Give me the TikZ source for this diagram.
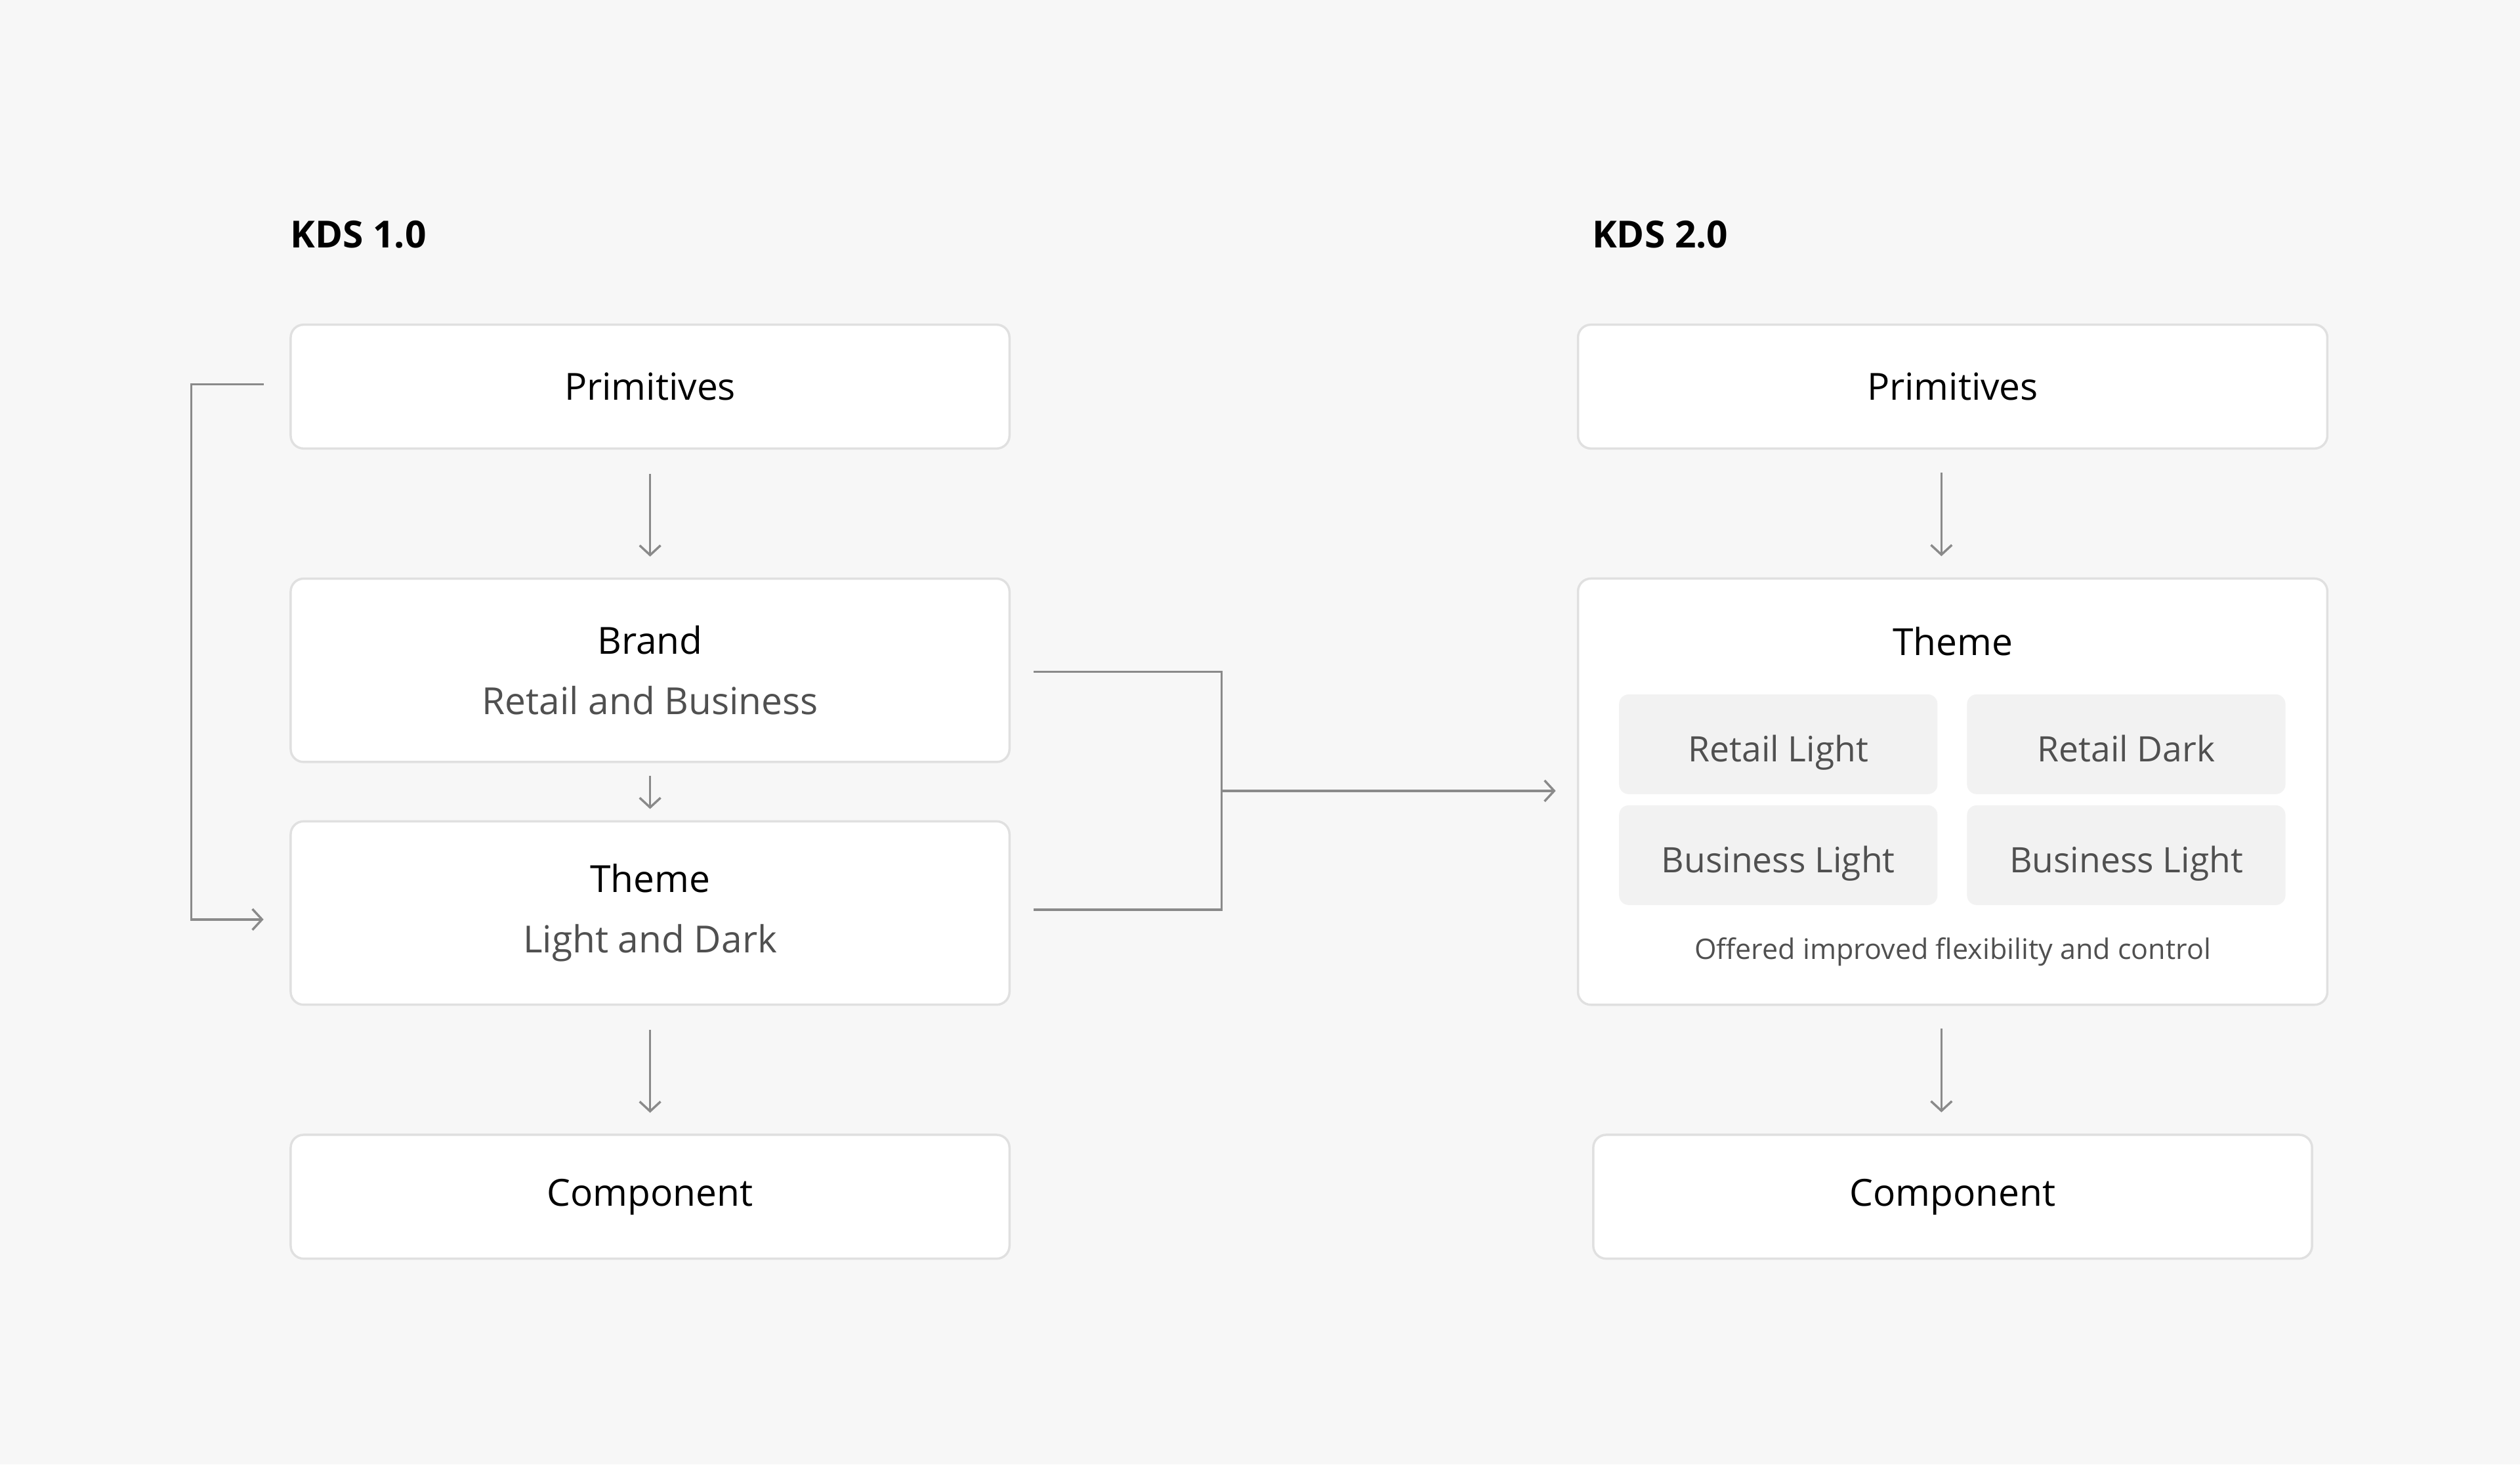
\documentclass[tikz,border=0pt]{standalone}
\usepackage{fontspec}
\setmainfont{Open Sans}
\usetikzlibrary{arrows.meta,positioning}
\definecolor{bgcol}{HTML}{F7F7F7}
\definecolor{linecol}{HTML}{E0E0E0}
\definecolor{chipcol}{HTML}{F2F2F2}
\definecolor{arrcol}{HTML}{8A8A8A}
\definecolor{subcol}{HTML}{505050}
\begin{document}
\begin{tikzpicture}[
x=0.01cm, y=-0.01cm,
box/.style={
  draw=linecol,
  fill=white,
  rounded corners=0.8mm,
  line width=0.4pt,
  minimum width=44.7mm,
  align=center,
  font=\fontsize{6.6}{9}\selectfont
  },
chip/.style={
  fill=chipcol,
  rounded corners=0.6mm,
  minimum width=19.8mm,
  minimum height=5mm,
  text height=1.6ex,
  text depth=0.45ex,
  text=subcol,
  font=\fontsize{6.2}{8}\selectfont
  },
flow/.style={
  draw=arrcol,
  line width=0.4pt,
  -{Straight Barb[length=0.6mm,width=1.3mm]}
  },
>=latex
]
\fill[bgcol] (0,0) rectangle (1568,911);

% KDS 1.0
\node[anchor=base west, inner sep=0pt, font=\bfseries\fontsize{6.6}{8}\selectfont] (titleA) at (180,154) {KDS 1.0};
\node[box, minimum height=7.7mm] (primA) at (404.5,240.5) {Primitives};
\node[box, minimum height=11.4mm] (brandA) at (404.5,417)
  {Brand\\[0.6mm]\textcolor{subcol}{Retail and Business}};
\node[box, minimum height=11.4mm] (themeA) at (404.5,568)
  {Theme\\[0.6mm]\textcolor{subcol}{Light and Dark}};
\node[box, minimum height=7.7mm] (compA) at (404.5,744.5) {Component};

\draw[flow] ([yshift=-1.5mm]primA.south) -- ([yshift=1.3mm]brandA.north);
\draw[flow] ([yshift=-0.8mm]brandA.south) -- ([yshift=0.7mm]themeA.north);
\draw[flow] ([yshift=-1.5mm]themeA.south) -- ([yshift=1.3mm]compA.north);

% bypass from primitives to theme
\coordinate (lA) at (164,239);
\coordinate (lB) at (164,572);
\draw[flow] (lA) -- (119,239) -- (119,572) -- (lB);

% merge into KDS 2.0
\coordinate (mA) at (643,418);
\coordinate (mB) at (643,566);
\coordinate (mJ) at (760,492);
\coordinate (mE) at (968,492);
\draw[draw=arrcol, line width=0.4pt] (mA) -- (760,418) -- (760,566) -- (mB);
\draw[flow] (mJ) -- (mE);

% KDS 2.0
\node[anchor=base west, inner sep=0pt, font=\bfseries\fontsize{6.6}{8}\selectfont] (titleB) at (990,154) {KDS 2.0};
\node[box, minimum width=46.6mm, minimum height=7.7mm] (primB) at (1215,240.5) {Primitives};
\node[box, minimum width=46.6mm, minimum height=26.5mm] (themeB) at (1215,492.5) {};
\node[font=\fontsize{6.6}{8}\selectfont] (themeT) at (1215,399) {Theme};
\node[chip] (rl) at (1106.5,463) {Retail Light};
\node[chip] (rd) at (1323,463) {Retail Dark};
\node[chip] (bl) at (1106.5,532) {Business Light};
\node[chip] (bd) at (1323,532) {Business Light};
\node[text=subcol, font=\fontsize{5}{6}\selectfont] (note) at (1215,592)
  {Offered improved flexibility and control};
\node[box, minimum height=7.7mm] (compB) at (1215,744.5) {Component};

\draw[flow] (1208,294) -- (1208,346);
\draw[flow] (1208,640) -- (1208,692);
\end{tikzpicture}
\end{document}
